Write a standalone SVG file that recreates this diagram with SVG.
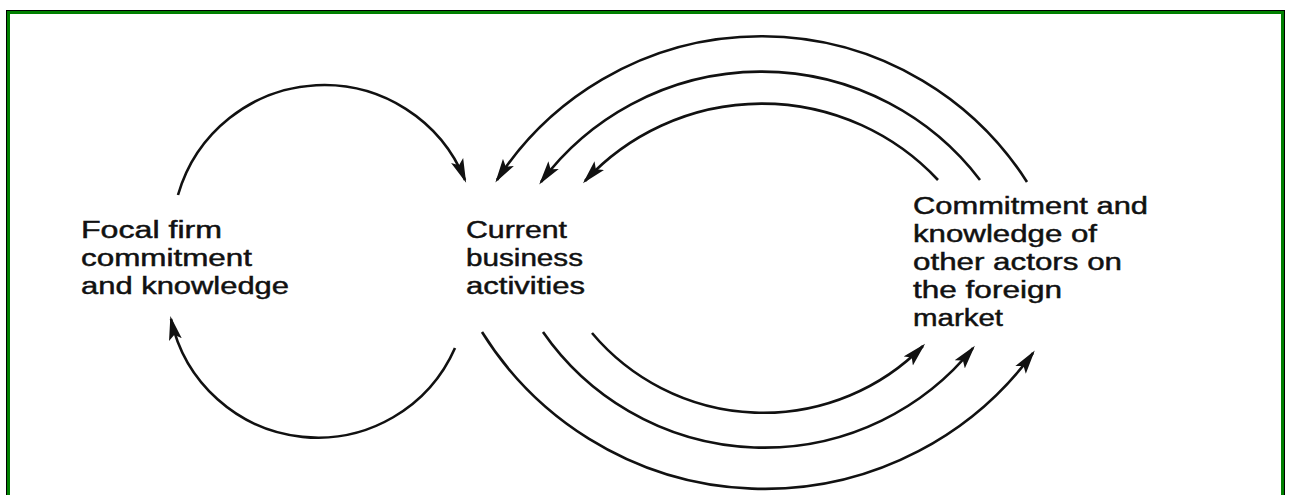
<svg xmlns="http://www.w3.org/2000/svg" width="1291" height="495" viewBox="0 0 1291 495">
  <style>
    .arc { fill: none; stroke: #111; stroke-width: 2.6; }
    .lbl { font-family: "Liberation Sans", Arial, sans-serif; font-size: 23px; fill: #111; stroke: #111; stroke-width: 0.45; }
  </style>
  <defs>
    <marker id="ah" markerUnits="userSpaceOnUse" markerWidth="24" markerHeight="14" viewBox="0 0 24 14" refX="21" refY="7" orient="auto">
      <path d="M0,0.5 L24,7 L0,13.5 L5,7 z" fill="#111"/>
    </marker>
  </defs>
  <rect x="0" y="0" width="1291" height="495" fill="#fff"/>
  <rect x="6.5" y="10.5" width="1278" height="500" fill="none" stroke="#000" stroke-width="1"/>
  <rect x="8.5" y="12.5" width="1274" height="500" fill="none" stroke="#008000" stroke-width="3"/>

  <g id="connectors">
    <path class="arc" d="M178,195 A152,152 0 0 1 465,180" marker-end="url(#ah)"/>
    <path class="arc" d="M455,348 A150,150 0 0 1 171,319" marker-end="url(#ah)"/>
    <path class="arc" d="M1027,182 A315,315 0 0 0 497,180" marker-end="url(#ah)"/>
    <path class="arc" d="M980,180 A275,275 0 0 0 541,182" marker-end="url(#ah)"/>
    <path class="arc" d="M938,180 A241,241 0 0 0 585,181" marker-end="url(#ah)"/>
    <path class="arc" d="M482,332 A333,333 0 0 0 1033,353" marker-end="url(#ah)"/>
    <path class="arc" d="M543,332 A269,269 0 0 0 973,348" marker-end="url(#ah)"/>
    <path class="arc" d="M592,333 A224,224 0 0 0 923,346" marker-end="url(#ah)"/>
  </g>

  <g id="focal-firm">
    <text class="lbl" x="81" y="238" textLength="141" lengthAdjust="spacingAndGlyphs">Focal firm</text>
    <text class="lbl" x="81" y="266" textLength="171" lengthAdjust="spacingAndGlyphs">commitment</text>
    <text class="lbl" x="81" y="294" textLength="208" lengthAdjust="spacingAndGlyphs">and knowledge</text>
  </g>

  <g id="current-activities">
    <text class="lbl" x="466" y="238" textLength="101" lengthAdjust="spacingAndGlyphs">Current</text>
    <text class="lbl" x="466" y="266" textLength="117" lengthAdjust="spacingAndGlyphs">business</text>
    <text class="lbl" x="466" y="294" textLength="119" lengthAdjust="spacingAndGlyphs">activities</text>
  </g>

  <g id="other-actors">
    <text class="lbl" x="913" y="214" textLength="235" lengthAdjust="spacingAndGlyphs">Commitment and</text>
    <text class="lbl" x="913" y="242" textLength="184" lengthAdjust="spacingAndGlyphs">knowledge of</text>
    <text class="lbl" x="913" y="270" textLength="209" lengthAdjust="spacingAndGlyphs">other actors on</text>
    <text class="lbl" x="913" y="298" textLength="149" lengthAdjust="spacingAndGlyphs">the foreign</text>
    <text class="lbl" x="913" y="326" textLength="90" lengthAdjust="spacingAndGlyphs">market</text>
  </g>
</svg>
